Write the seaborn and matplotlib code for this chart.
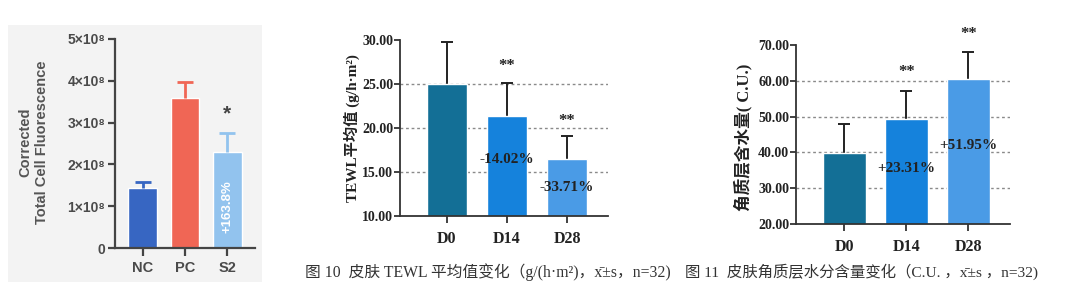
import numpy as np
import pandas as pd
import matplotlib
matplotlib.use("Agg")
import matplotlib.pyplot as plt
import seaborn as sns
from matplotlib.patches import Rectangle

# ---------------- data ----------------
p1_groups = ["NC", "PC", "S2"]
p1_means = [1.43e8, 3.60e8, 2.30e8]
p1_errs = [0.15e8, 0.38e8, 0.45e8]
p1_colors = ["#3766c2", "#f06655", "#92c3ee"]
p1_yticks = [0, 1e8, 2e8, 3e8, 4e8, 5e8]
p1_yticklabels = ["0", "1×10⁸", "2×10⁸", "3×10⁸", "4×10⁸", "5×10⁸"]

days = ["D0", "D14", "D28"]
tewl_means = [25.0, 21.4, 16.5]
tewl_errs = [4.8, 3.7, 2.6]
tewl_yticks = [10, 15, 20, 25, 30]
tewl_notes = ["", "-14.02%", "-33.71%"]
tewl_sig = ["", "**", "**"]

cu_means = [39.8, 49.3, 60.5]
cu_errs = [8.1, 7.8, 7.5]
cu_yticks = [20, 30, 40, 50, 60, 70]
cu_notes = ["", "+23.31%", "+51.95%"]
cu_sig = ["", "**", "**"]

day_colors = ["#136f96", "#1582dc", "#4a9be6"]

W, H = 1080, 306


def fx(px):
    return px / W


def fy(py):
    return 1 - py / H


def upper_errorbar(ax, x, means, errs, color, lw, cap):
    cont = ax.errorbar(x, means, yerr=[np.zeros(len(errs)), errs], fmt="none",
                       ecolor=color, elinewidth=lw, capsize=cap, capthick=lw,
                       zorder=1)
    caplines = cont.lines[1]
    if len(caplines) == 2:
        caplines[0].set_visible(False)
    return cont


sns.set_theme(style="white")
plt.rcParams["font.family"] = ["Liberation Sans", "DejaVu Sans"]

fig = plt.figure(figsize=(W / 100, H / 100), dpi=100)
fig.patch.set_facecolor("white")

# grey backdrop of panel 1
fig.patches.append(Rectangle((fx(8), fy(282)), fx(262) - fx(8), fy(25) - fy(282),
                             transform=fig.transFigure, facecolor="#f3f3f3",
                             edgecolor="none", zorder=-5))

# ---------------- panel 1 ----------------
ax1 = fig.add_axes([fx(115), fy(248), 140 / W, 209 / H])
ax1.patch.set_alpha(0)
df1 = pd.DataFrame({"g": p1_groups, "v": p1_means})
sns.barplot(data=df1, x="g", y="v", hue="g", palette=p1_colors, width=0.68,
            legend=False, ax=ax1, saturation=1, errorbar=None)
for i, (m, e, c) in enumerate(zip(p1_means, p1_errs, p1_colors)):
    upper_errorbar(ax1, [i], [m], [e], c, 2, 6)
ax1.set_xlim(-0.65, 2.65)
ax1.set_ylim(0, 5e8)
ax1.set_yticks(p1_yticks)
ax1.set_yticklabels(p1_yticklabels)
ax1.set_xlabel("")
ax1.set_ylabel("")
for s in ["top", "right"]:
    ax1.spines[s].set_visible(False)
for s in ["left", "bottom"]:
    ax1.spines[s].set_color("#444444")
    ax1.spines[s].set_linewidth(1.6)
ax1.tick_params(axis="y", direction="out", length=5, width=1.6, color="#444444",
                labelsize=10, labelcolor="#4a4a4a", pad=2, left=True)
ax1.tick_params(axis="x", direction="out", length=6, width=1.6, color="#444444",
                labelsize=10.5, labelcolor="#4a4a4a", pad=3, bottom=True)
for t in ax1.get_yticklabels() + ax1.get_xticklabels():
    t.set_fontweight("bold")
ax1.text(2, 0.98e8, "+163.8%", rotation=90, ha="center", va="center",
         color="white", fontsize=9.5, fontweight="bold")
ax1.text(2, 3.2e8, "*", ha="center", va="center", color="#444444",
         fontsize=15, fontweight="bold")
fig.text(fx(34), fy(142), "Corrected\nTotal Cell Fluorescence", rotation=90,
         ha="center", va="center", multialignment="center", fontsize=10.5,
         fontweight="bold", color="#555555", linespacing=1.25)

# ---------------- panels 2 & 3 ----------------
serif = ["Liberation Serif", "Noto Sans CJK SC", "DejaVu Sans"]


def day_panel(rect, means, errs, ylim, yticks, grid, notes, note_pos, sig, sig_pos,
              xlim, ylabel, ylabel_x, ylabel_size, width):
    ax = fig.add_axes(rect)
    df = pd.DataFrame({"d": days, "v": means})
    sns.barplot(data=df, x="d", y="v", hue="d", palette=day_colors, width=width,
                legend=False, ax=ax, saturation=1, errorbar=None, zorder=2)
    upper_errorbar(ax, list(range(3)), means, errs, "#222222", 1.4, 4)
    for g in grid:
        ax.axhline(g, color="#8a8a8a", lw=1.0, ls=(0, (2, 2)), zorder=0)
    ax.set_xlim(*xlim)
    ax.set_ylim(*ylim)
    ax.set_yticks(yticks)
    ax.set_yticklabels([f"{t:.2f}" for t in yticks])
    ax.set_xlabel("")
    ax.set_ylabel("")
    for s in ["top", "right"]:
        ax.spines[s].set_visible(False)
    for s in ["left", "bottom"]:
        ax.spines[s].set_color("#333333")
        ax.spines[s].set_linewidth(1.3)
    ax.tick_params(axis="y", direction="out", length=4, width=1.3, color="#333333",
                   labelsize=10, labelcolor="#222222", pad=1, left=True)
    ax.tick_params(axis="x", direction="out", length=5, width=1.3, color="#333333",
                   labelsize=11.5, labelcolor="#222222", pad=6, bottom=True)
    for t in ax.get_yticklabels() + ax.get_xticklabels():
        t.set_fontweight("bold")
        t.set_family(serif)
    for i in range(3):
        if notes[i]:
            ax.text(i, note_pos[i], notes[i], ha="center", va="center",
                    fontsize=11, fontweight="bold", color="#222222",
                    family=serif, zorder=5)
        if sig[i]:
            ax.text(i, sig_pos[i], sig[i], ha="center", va="center",
                    fontsize=12, fontweight="bold", color="#222222",
                    family=serif, zorder=5)
    fig.text(fx(ylabel_x[0]), fy(ylabel_x[1]), ylabel, rotation=90, ha="center",
             va="center", fontsize=ylabel_size, fontweight="bold", color="#222222",
             family=serif)
    return ax


day_panel([fx(400), fy(216), 208 / W, 176 / H], tewl_means, tewl_errs, (10, 30),
          tewl_yticks, [15, 20, 25], tewl_notes, [0, 16.4, 13.2], tewl_sig,
          [0, 27.0, 20.8], (-0.78, 2.68), "TEWL平均值 (g/h·m²)", (352, 128),
          11, 0.67)

day_panel([fx(796), fy(224), 214 / W, 179 / H], cu_means, cu_errs, (20, 70),
          cu_yticks, [30, 40, 50, 60], cu_notes, [0, 35.6, 41.8], cu_sig,
          [0, 62.5, 73.0], (-0.78, 2.67), "角质层含水量( C.U.)", (743, 137),
          12, 0.69)

# ---------------- captions ----------------
fig.text(fx(305), fy(272),
         "图 10  皮肤 TEWL 平均值变化（g/(h·m²)，x\u0304±s，n=32)",
         ha="left", va="center", fontsize=11.3, color="#333333", family=serif)
fig.text(fx(685), fy(272),
         "图 11  皮肤角质层水分含量变化（C.U. ，x\u0304±s ，n=32)",
         ha="left", va="center", fontsize=11.1, color="#333333", family=serif)

fig.savefig("out.png", dpi=100, facecolor="white")
